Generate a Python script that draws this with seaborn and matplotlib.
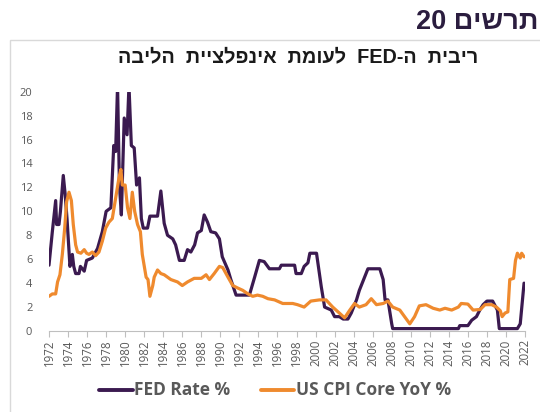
import seaborn as sns
import pandas as pd
import matplotlib.pyplot as plt
from matplotlib.patches import Rectangle

# values (year, percent)
fed_years = [1972.0, 1972.35, 1972.7, 1972.8, 1973.05, 1973.2, 1973.5, 1973.7, 1973.9,
             1974.2, 1974.45, 1974.6, 1974.8, 1975.15, 1975.3, 1975.7, 1975.95, 1976.55,
             1977.1, 1977.6, 1978.0, 1978.5, 1978.8, 1979.0, 1979.2, 1979.4, 1979.6,
             1979.9, 1980.2, 1980.4, 1980.65, 1980.95, 1981.2, 1981.5, 1981.7, 1981.9,
             1982.35, 1982.6, 1983.4, 1983.75, 1984.1, 1984.45, 1985.0, 1985.3, 1985.7,
             1986.2, 1986.55, 1986.9, 1987.3, 1987.6, 1988.0, 1988.3, 1988.65, 1989.0,
             1989.5, 1989.9, 1990.2, 1990.8, 1991.1, 1991.65, 1993.05, 1993.6, 1994.1,
             1994.6, 1995.15, 1996.2, 1996.4, 1997.8, 1997.95, 1998.5, 1998.8, 1999.2,
             1999.4, 2000.1, 2000.35, 2000.6, 2000.95, 2001.65, 2002.0, 2002.5, 2002.9,
             2003.4, 2003.75, 2004.3, 2004.6, 2005.15, 2005.5, 2006.75, 2007.1, 2007.3,
             2007.6, 2008.0, 2008.1, 2015.0, 2015.15, 2016.0, 2016.4, 2016.9, 2017.25,
             2017.6, 2018.0, 2018.6, 2018.8, 2019.1, 2019.3, 2021.2, 2021.5, 2021.9]
fed_vals = [5.5, 8.3, 10.9, 8.9, 8.9, 10.0, 13.0, 11.4, 9.3,
            5.4, 6.4, 5.4, 4.8, 4.8, 5.4, 5.0, 5.9, 6.1,
            6.9, 8.3, 10.0, 10.3, 15.5, 15.0, 20.5, 12.2, 9.7,
            17.8, 16.4, 20.5, 15.5, 15.3, 12.2, 12.8, 9.4, 8.6,
            8.6, 9.6, 9.6, 11.7, 9.0, 8.0, 7.7, 7.2, 5.9,
            5.9, 6.8, 6.6, 7.2, 8.2, 8.4, 9.7, 9.1, 8.3,
            8.2, 7.7, 6.2, 5.1, 4.3, 3.0, 3.0, 4.5, 5.9,
            5.8, 5.2, 5.2, 5.5, 5.5, 4.8, 4.8, 5.4, 5.7,
            6.5, 6.5, 5.1, 3.7, 2.0, 1.75, 1.2, 1.2, 1.0,
            1.0, 1.5, 2.6, 3.4, 4.5, 5.2, 5.2, 4.3, 2.6,
            2.6, 0.6, 0.2, 0.2, 0.45, 0.45, 0.9, 1.2, 1.75,
            2.2, 2.5, 2.5, 2.2, 1.75, 0.2, 0.2, 0.6, 4.0]

cpi_years = [1972.0, 1972.35, 1972.7, 1972.9, 1973.15, 1973.4, 1973.65, 1973.85, 1974.1,
             1974.35, 1974.55, 1974.8, 1975.0, 1975.35, 1975.7, 1975.95, 1976.2, 1976.55,
             1976.9, 1977.25, 1977.6, 1977.95, 1978.3, 1978.65, 1979.0, 1979.35, 1979.55,
             1979.7, 1980.0, 1980.25, 1980.5, 1980.75, 1981.0, 1981.3, 1981.6, 1981.8,
             1982.2, 1982.4, 1982.6, 1982.9, 1983.05, 1983.4, 1983.75, 1984.1, 1984.8,
             1985.5, 1986.0, 1986.55, 1987.25, 1988.0, 1988.5, 1988.85, 1989.35, 1989.9,
             1990.25, 1990.8, 1991.3, 1991.8, 1992.35, 1992.9, 1993.4, 1993.9, 1994.45,
             1995.0, 1995.7, 1996.55, 1997.6, 1998.1, 1998.8, 1999.5, 2000.4, 2001.1,
             2001.8, 2002.5, 2003.05, 2003.6, 2004.1, 2004.6, 2005.3, 2005.85, 2006.4,
             2007.1, 2007.6, 2008.1, 2008.85, 2009.35, 2009.9, 2010.4, 2010.9, 2011.6,
             2012.35, 2013.05, 2013.6, 2014.3, 2015.0, 2015.3, 2016.0, 2016.55, 2017.3,
             2017.8, 2018.5, 2019.0, 2019.4, 2019.6, 2019.9, 2020.2, 2020.4, 2020.8,
             2021.0, 2021.2, 2021.5, 2021.65, 2021.9]
cpi_vals = [2.9, 3.1, 3.1, 4.1, 4.7, 6.4, 8.6, 10.8, 11.6,
            10.9, 8.9, 7.2, 6.6, 6.5, 6.8, 6.5, 6.4, 6.6,
            6.3, 6.6, 7.5, 8.6, 9.1, 9.4, 11.1, 12.8, 13.5,
            12.2, 12.2, 10.3, 9.4, 11.6, 10.0, 8.9, 8.3, 6.4,
            4.5, 4.3, 2.9, 3.8, 4.5, 5.1, 4.8, 4.7, 4.3,
            4.1, 3.8, 4.1, 4.4, 4.4, 4.7, 4.3, 4.8, 5.4,
            5.3, 4.5, 3.8, 3.6, 3.4, 3.1, 2.9, 3.0, 2.9,
            2.7, 2.6, 2.3, 2.3, 2.2, 2.0, 2.5, 2.6, 2.6,
            2.0, 1.5, 1.1, 1.75, 2.3, 2.0, 2.2, 2.7, 2.2,
            2.3, 2.5, 2.0, 1.75, 1.2, 0.6, 1.2, 2.1, 2.2,
            1.9, 1.75, 1.9, 1.75, 2.0, 2.3, 2.25, 1.75, 1.8,
            2.2, 2.2, 2.0, 1.7, 1.2, 1.5, 1.6, 4.3, 4.4,
            5.9, 6.5, 6.1, 6.5, 6.2]

series_names = ["FED Rate %", "US CPI Core YoY %"]
colors = ["#3b1a50", "#ef8a2e"]
year_ticks = list(range(1972, 2023, 2))
value_ticks = list(range(0, 21, 2))

# Hebrew strings written in visual (left-to-right) order since matplotlib has no bidi
heading = "20 םישרת"
subtitle = "הבילה  תייצלפניא  תמועל  FED-ה  תיביר"

df = pd.concat([
    pd.DataFrame({"year": fed_years, "value": fed_vals, "series": series_names[0]}),
    pd.DataFrame({"year": cpi_years, "value": cpi_vals, "series": series_names[1]}),
])

sns.set_style("white")
plt.rcParams['font.family'] = ['Open Sans', 'DejaVu Sans']
grey = "#595959"

fig = plt.figure(figsize=(5.4, 4.12), dpi=100)
ax = fig.add_axes([49 / 540, 81 / 412, 476 / 540, 239.3 / 412])

sns.lineplot(data=df, x="year", y="value", hue="series", palette=colors,
             estimator=None, sort=False, linewidth=2.3, ax=ax)

ax.set_xlim(1972, 2022)
ax.set_ylim(0, 20)
ax.set_xticks(year_ticks)
ax.set_xticklabels([str(y) for y in year_ticks], rotation=90, fontsize=8.3, color=grey)
ax.set_yticks(value_ticks)
ax.set_yticklabels([str(v) for v in value_ticks], fontsize=8, color=grey)
ax.set_xlabel("")
ax.set_ylabel("")
for side in ["top", "right", "left"]:
    ax.spines[side].set_visible(False)
ax.spines["bottom"].set_color("#bfbfbf")
ax.tick_params(axis="x", length=4, color="#bfbfbf", pad=2, bottom=True)
ax.tick_params(axis="y", length=0, pad=12)

sns.move_legend(ax, "center", bbox_to_anchor=(0.475, -0.245), ncol=2, frameon=False,
                title=None, handlelength=2.4, columnspacing=2.2, handletextpad=0.1)
for t in ax.get_legend().get_texts():
    t.set_fontsize(12.5)
    t.set_fontweight("bold")
    t.set_color(grey)
for line in ax.get_legend().get_lines():
    line.set_linewidth(2.8)

# frame around the chart box
fig.patches.append(Rectangle((10 / 540, -0.01), 1.0, (412 - 40) / 412 + 0.01,
                             transform=fig.transFigure, fill=False,
                             edgecolor="#d9d9d9", linewidth=1))

fig.text(538 / 540, 0.947, heading, ha="right", va="center", fontsize=19.5,
         fontweight="bold", color="#2b1d3f", family=['Liberation Sans', 'DejaVu Sans'])
fig.text(298 / 540, 0.862, subtitle, ha="center", va="center", fontsize=14.3,
         fontweight="bold", color="#1a1a1a", family=['Liberation Sans', 'DejaVu Sans'])

fig.savefig("out.png", dpi=100)
